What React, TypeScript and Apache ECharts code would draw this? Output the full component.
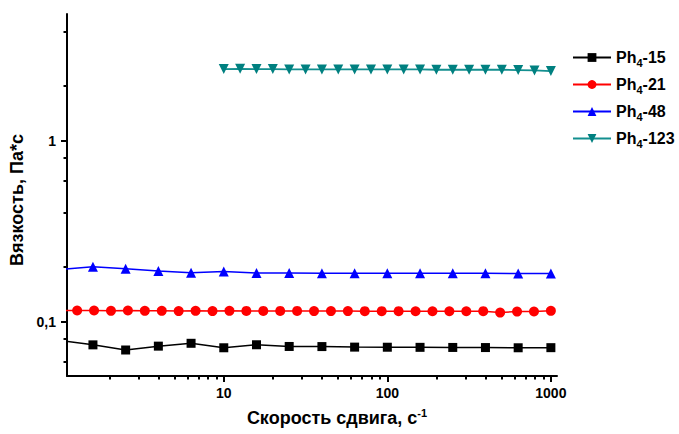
import React, { useEffect, useRef } from 'react';
import * as echarts from 'echarts';

// Shear rate (1/s) sampling used by Ph4-15 and Ph4-48
const rateA = [1, 1.585, 2.512, 3.981, 6.31, 10, 15.85, 25.12, 39.81, 63.1, 100, 158.5, 251.2, 398.1, 631, 1000];
// Shear rate sampling used by Ph4-21
const rateB = [1, 1.269, 1.61, 2.043, 2.593, 3.291, 4.176, 5.299, 6.724, 8.533, 10.83, 13.74, 17.44, 22.13, 28.08, 35.63, 45.22, 57.38, 72.81, 92.39, 117.2, 148.8, 188.8, 239.5, 304.0, 385.8, 489.5, 621.2, 788.3, 1000];
// Shear rate sampling used by Ph4-123
const rateC = [10, 12.59, 15.85, 19.95, 25.12, 31.62, 39.81, 50.12, 63.1, 79.43, 100, 125.9, 158.5, 199.5, 251.2, 316.2, 398.1, 501.2, 631, 794.3, 1000];

const visc15 = [0.0785, 0.0743, 0.0696, 0.0731, 0.0758, 0.0716, 0.0744, 0.0728, 0.0727, 0.0722, 0.0721, 0.072, 0.0719, 0.0718, 0.0716, 0.0717];
const visc21 = [0.115, 0.115, 0.115, 0.1145, 0.115, 0.1145, 0.1145, 0.1142, 0.1146, 0.1142, 0.1146, 0.1144, 0.1144, 0.1144, 0.1144, 0.1142, 0.1142, 0.1142, 0.1141, 0.1141, 0.1141, 0.114, 0.114, 0.114, 0.114, 0.1141, 0.112, 0.1135, 0.1136, 0.1146];
const visc48 = [0.194, 0.2005, 0.1957, 0.1901, 0.1858, 0.1889, 0.1853, 0.1853, 0.1849, 0.1846, 0.1845, 0.1845, 0.1845, 0.1845, 0.1844, 0.1843];
const visc123 = [2.48, 2.49, 2.48, 2.48, 2.47, 2.47, 2.47, 2.47, 2.47, 2.47, 2.47, 2.47, 2.47, 2.46, 2.46, 2.46, 2.46, 2.46, 2.45, 2.44, 2.42];

const seriesNames = ['Ph4-15', 'Ph4-21', 'Ph4-48', 'Ph4-123'];

const xMajorTicks = [10, 100, 1000];
const xMinorTicks = [2, 3, 4, 5, 6, 7, 8, 9, 20, 30, 40, 50, 60, 70, 80, 90, 200, 300, 400, 500, 600, 700, 800, 900];
const yMajorTicks = [0.1, 1];
const yMinorTicks = [0.06, 0.08, 0.2, 0.4, 0.6, 0.8, 2, 4];

const FONT = '"Liberation Sans", Arial, Helvetica, sans-serif';

function pairs(xs: number[], ys: number[]) {
  return xs.map((x, i) => [x, ys[i]]);
}

export default function App() {
  const ref = useRef<HTMLDivElement>(null);
  useEffect(() => {
    if (!ref.current) return;
    const chart = echarts.init(ref.current, null, { renderer: 'svg' });
    const xMin = 1.1;
    const xMax = 1090;
    const yMin = 0.05;
    const yMax = 5;
    const axisLineStyle = { color: '#000', width: 2 };
    const fmt = (v: number) => String(Number(v.toPrecision(6))).replace('.', ',');
    chart.setOption({
      animation: false,
      grid: { left: 67, right: 122, top: 14, bottom: 58, outerBoundsMode: 'none' },
      legend: {
        left: 572,
        top: 47,
        padding: 0,
        orient: 'vertical',
        itemWidth: 38,
        itemHeight: 11,
        itemGap: 6,
        data: seriesNames,
        formatter: (name: string) => {
          const parts = name.split('-');
          return `{b|Ph}{s|4}{b|-${parts[1]}}`;
        },
        textStyle: {
          color: '#000',
          rich: {
            b: { fontFamily: FONT, fontWeight: 'bold', fontSize: 16, color: '#000', lineHeight: 16 },
            s: { fontFamily: FONT, fontWeight: 'bold', fontSize: 11, color: '#000', lineHeight: 16, padding: [10, 0, 0, 0] },
          },
        },
      },
      xAxis: [
        {
          type: 'log',
          logBase: 10,
          min: xMin,
          max: xMax,
          position: 'bottom',
          name: '{t|Скорость сдвига, с}{p|-1}',
          nameLocation: 'middle',
          nameGap: 31,
          nameTextStyle: {
            padding: [0, 0, 0, 50],
            rich: {
              t: { fontFamily: FONT, fontWeight: 'bold', fontSize: 18, color: '#000', lineHeight: 22 },
              p: { fontFamily: FONT, fontWeight: 'bold', fontSize: 11, color: '#000', verticalAlign: 'top', lineHeight: 14 },
            },
          },
          axisLine: { show: true, lineStyle: axisLineStyle },
          axisTick: { show: true, customValues: xMajorTicks, length: 6, lineStyle: { color: '#000', width: 2 } },
          axisLabel: {
            customValues: xMajorTicks,
            margin: 10,
            fontFamily: FONT,
            fontWeight: 'bold',
            fontSize: 14,
            color: '#000',
            formatter: fmt,
          },
          splitLine: { show: false },
          minorTick: { show: false },
        },
        {
          type: 'log',
          logBase: 10,
          min: xMin,
          max: xMax,
          position: 'bottom',
          axisLine: { show: false },
          axisTick: { show: true, customValues: xMinorTicks, length: 3.5, lineStyle: { color: '#000', width: 2 } },
          axisLabel: { show: false },
          splitLine: { show: false },
        },
      ],
      yAxis: [
        {
          type: 'log',
          logBase: 10,
          min: yMin,
          max: yMax,
          position: 'left',
          name: 'Вязкость, Па*с',
          nameLocation: 'middle',
          nameGap: 39,
          nameTextStyle: {
            fontFamily: FONT,
            fontWeight: 'bold',
            fontSize: 18,
            color: '#000',
            padding: [0, 10, 0, 0],
          },
          axisLine: { show: true, lineStyle: axisLineStyle },
          axisTick: { show: true, customValues: yMajorTicks, length: 6, lineStyle: { color: '#000', width: 2 } },
          axisLabel: {
            customValues: yMajorTicks,
            margin: 11,
            fontFamily: FONT,
            fontWeight: 'bold',
            fontSize: 14,
            color: '#000',
            formatter: fmt,
          },
          splitLine: { show: false },
        },
        {
          type: 'log',
          logBase: 10,
          min: yMin,
          max: yMax,
          position: 'left',
          axisLine: { show: false },
          axisTick: { show: true, customValues: yMinorTicks, length: 3.5, lineStyle: { color: '#000', width: 2 } },
          axisLabel: { show: false },
          splitLine: { show: false },
        },
      ],
      series: [
        {
          name: seriesNames[0],
          type: 'line',
          data: pairs(rateA, visc15),
          symbol: 'rect',
          symbolSize: 9,
          showAllSymbol: true,
          lineStyle: { color: '#000', width: 1.5 },
          itemStyle: { color: '#000' },
        },
        {
          name: seriesNames[1],
          type: 'line',
          data: pairs(rateB, visc21),
          symbol: 'circle',
          symbolSize: 10,
          showAllSymbol: true,
          lineStyle: { color: '#ff0000', width: 1.5 },
          itemStyle: { color: '#ff0000' },
        },
        {
          name: seriesNames[2],
          type: 'line',
          data: pairs(rateA, visc48),
          symbol: 'triangle',
          symbolSize: 10,
          showAllSymbol: true,
          lineStyle: { color: '#0000ff', width: 1.5 },
          itemStyle: { color: '#0000ff' },
        },
        {
          name: seriesNames[3],
          type: 'line',
          data: pairs(rateC, visc123),
          symbol: 'triangle',
          symbolRotate: 180,
          symbolSize: 10,
          showAllSymbol: true,
          lineStyle: { color: '#138f8f', width: 1.8 },
          itemStyle: { color: '#008080' },
        },
      ],
    });
    return () => chart.dispose();
  }, []);
  return (
    <div
      ref={ref}
      style={{ position: 'fixed', left: 0, top: 0, width: 679, height: 434, background: '#fff' }}
    />
  );
}
